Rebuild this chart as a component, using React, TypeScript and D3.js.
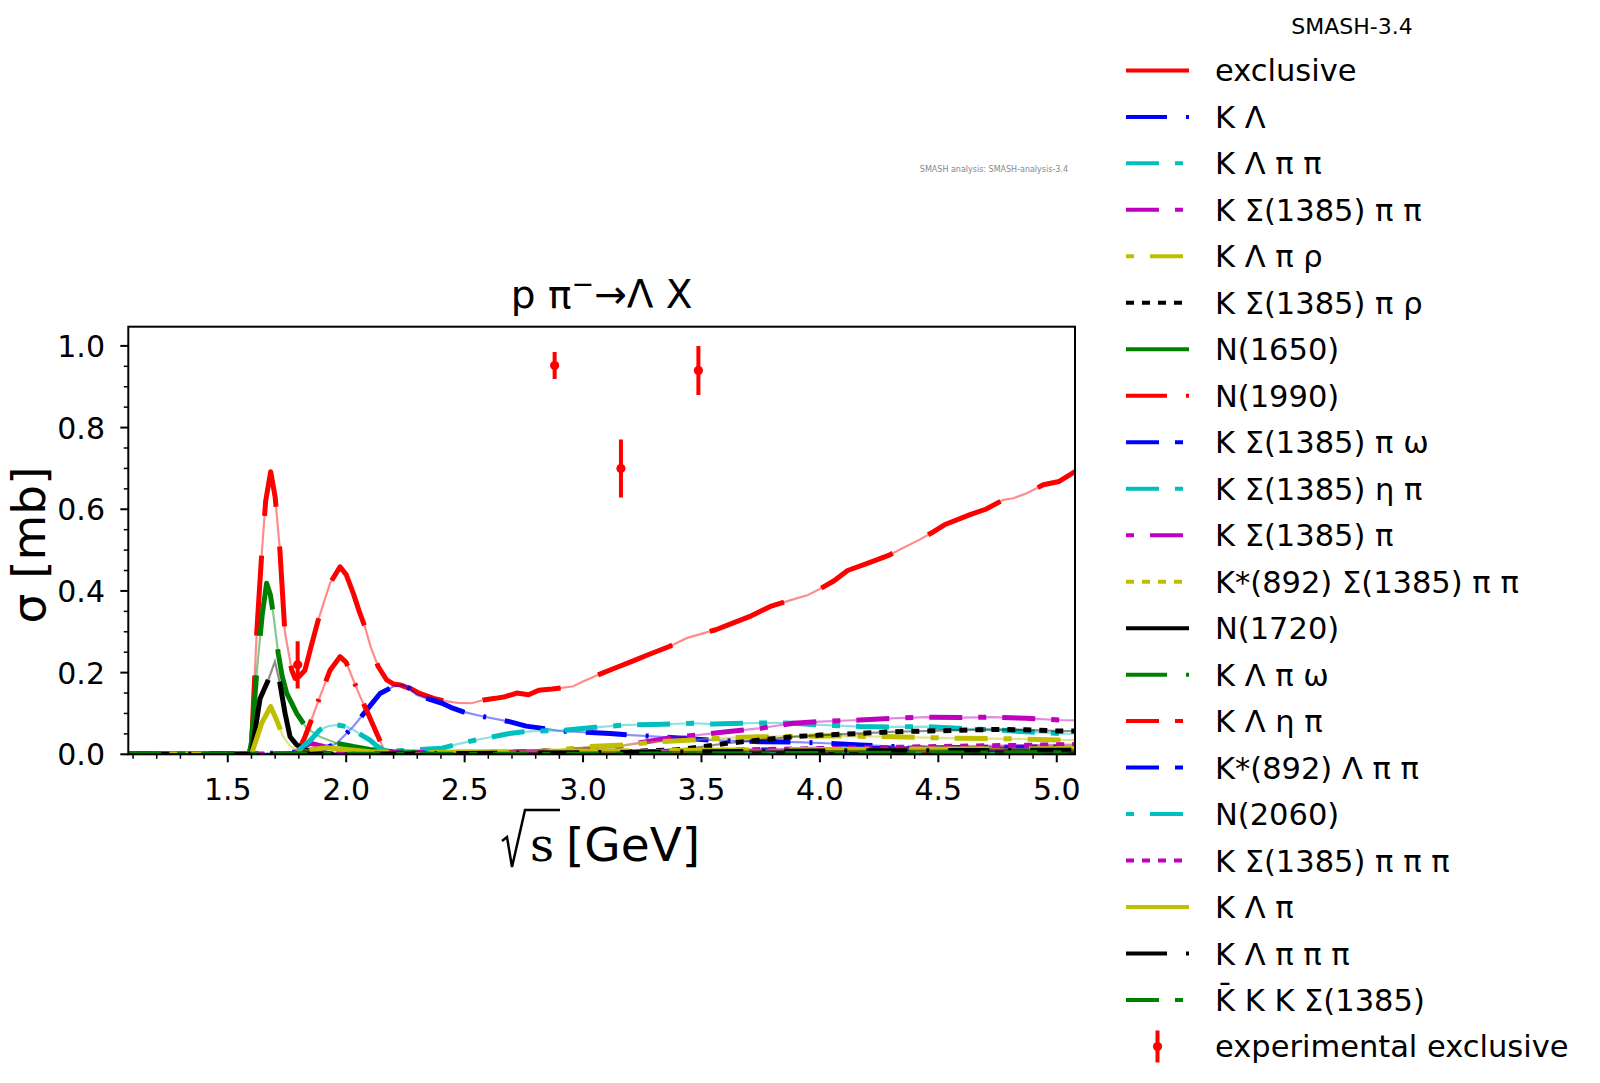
import React from "react";
import * as d3 from "d3";

type Pt = [number, number];

// sqrt(s) [GeV], sigma [mb]
const exclusive: Pt[] = [
  [1.08, 0], [1.59, 0], [1.6, 0.02], [1.622, 0.296], [1.643, 0.488], [1.66, 0.62], [1.681, 0.692],
  [1.7, 0.63], [1.72, 0.5], [1.741, 0.3], [1.77, 0.206], [1.784, 0.186], [1.8, 0.19], [1.826, 0.206],
  [1.85, 0.26], [1.882, 0.329], [1.91, 0.38], [1.932, 0.419], [1.974, 0.459], [2.0, 0.44], [2.03, 0.394],
  [2.055, 0.35], [2.079, 0.312], [2.105, 0.26], [2.135, 0.215], [2.171, 0.182], [2.2, 0.172],
  [2.227, 0.17], [2.25, 0.165], [2.269, 0.162], [2.31, 0.149], [2.369, 0.137], [2.42, 0.13],
  [2.47, 0.126], [2.529, 0.125], [2.58, 0.133], [2.63, 0.137], [2.671, 0.141], [2.72, 0.15],
  [2.77, 0.146], [2.813, 0.157], [2.87, 0.16], [2.956, 0.166], [3.0, 0.178], [3.062, 0.194],
  [3.13, 0.21], [3.204, 0.227], [3.28, 0.245], [3.364, 0.264], [3.44, 0.285], [3.506, 0.296],
  [3.56, 0.305], [3.613, 0.317], [3.702, 0.337], [3.791, 0.362], [3.88, 0.378], [3.95, 0.39],
  [4.0, 0.405], [4.06, 0.425], [4.117, 0.45], [4.203, 0.468], [4.29, 0.487], [4.35, 0.505],
  [4.419, 0.525], [4.48, 0.545], [4.526, 0.562], [4.634, 0.587], [4.7, 0.6], [4.774, 0.623],
  [4.816, 0.627], [4.873, 0.639], [4.943, 0.66], [5.01, 0.668], [5.077, 0.692],
];
const kLambda: Pt[] = [
  [1.08, 0], [1.61, 0], [1.7, 0.003], [1.8, 0.006], [1.9, 0.012], [1.96, 0.027], [2.03, 0.068],
  [2.086, 0.108], [2.143, 0.149], [2.199, 0.166], [2.241, 0.17], [2.269, 0.16], [2.298, 0.145],
  [2.35, 0.135], [2.405, 0.125], [2.45, 0.113], [2.494, 0.104], [2.583, 0.092], [2.689, 0.08],
  [2.76, 0.069], [2.85, 0.062], [2.903, 0.057], [3.0, 0.054], [3.114, 0.051], [3.2, 0.047],
  [3.325, 0.043], [3.43, 0.039], [3.536, 0.035], [3.747, 0.031], [3.9, 0.03], [4.029, 0.027],
  [4.17, 0.023], [4.31, 0.019], [4.45, 0.015], [4.591, 0.011], [4.8, 0.011], [5.077, 0.01],
];
const kLambdaPiPi: Pt[] = [
  [1.08, 0], [1.9, 0], [2.0, 0.002], [2.1, 0.004], [2.2, 0.008], [2.3, 0.011], [2.405, 0.015],
  [2.47, 0.025], [2.547, 0.035], [2.62, 0.043], [2.689, 0.051], [2.75, 0.055], [2.813, 0.057],
  [2.903, 0.058], [2.974, 0.062], [3.05, 0.066], [3.184, 0.072], [3.3, 0.073], [3.465, 0.076],
  [3.55, 0.074], [3.676, 0.076], [3.8, 0.077], [3.888, 0.076], [4.0, 0.072], [4.169, 0.068],
  [4.3, 0.067], [4.45, 0.068], [4.6, 0.063], [4.732, 0.06], [4.87, 0.055], [5.01, 0.051], [5.077, 0.05],
];
const kSigmaPiPi: Pt[] = [
  [1.08, 0], [2.4, 0], [2.6, 0.003], [2.8, 0.008], [3.0, 0.012], [3.15, 0.018], [3.184, 0.023],
  [3.293, 0.033], [3.395, 0.043], [3.5, 0.048], [3.606, 0.055], [3.75, 0.064], [3.888, 0.076],
  [4.0, 0.08], [4.169, 0.084], [4.3, 0.088], [4.45, 0.091], [4.6, 0.09], [4.732, 0.091],
  [4.87, 0.088], [5.01, 0.084], [5.077, 0.083],
];
const kLambdaPiRho: Pt[] = [
  [1.08, 0], [2.6, 0], [2.75, 0.005], [2.903, 0.011], [3.027, 0.019], [3.184, 0.023], [3.3, 0.03],
  [3.465, 0.035], [3.6, 0.04], [3.747, 0.043], [3.9, 0.044], [4.029, 0.045], [4.17, 0.044],
  [4.31, 0.043], [4.45, 0.041], [4.591, 0.039], [4.8, 0.038], [5.01, 0.035], [5.077, 0.035],
];
const kSigmaPiRho: Pt[] = [
  [1.08, 0], [2.9, 0], [3.1, 0.004], [3.25, 0.008], [3.395, 0.011], [3.5, 0.018], [3.606, 0.027],
  [3.75, 0.035], [3.888, 0.043], [4.0, 0.047], [4.169, 0.051], [4.3, 0.055], [4.45, 0.057],
  [4.6, 0.059], [4.732, 0.061], [4.87, 0.06], [5.01, 0.057], [5.077, 0.057],
];
const n1650: Pt[] = [
  [1.08, 0], [1.59, 0], [1.6, 0.03], [1.622, 0.198], [1.645, 0.34], [1.664, 0.419], [1.68, 0.39],
  [1.692, 0.345], [1.713, 0.247], [1.73, 0.19], [1.749, 0.149], [1.77, 0.125], [1.791, 0.1],
  [1.833, 0.064], [1.889, 0.043], [1.96, 0.027], [2.03, 0.019], [2.1, 0.012], [2.2, 0.006],
  [2.4, 0.003], [3.0, 0.002], [5.077, 0.001],
];
const n1990: Pt[] = [
  [1.08, 0], [1.78, 0], [1.8, 0.01], [1.826, 0.043], [1.86, 0.095], [1.889, 0.141], [1.932, 0.206],
  [1.974, 0.239], [2.0, 0.225], [2.03, 0.182], [2.06, 0.14], [2.086, 0.108], [2.129, 0.051],
  [2.157, 0.015], [2.2, 0.004], [2.4, 0.001], [5.077, 0],
];
const kSigmaPiOmega: Pt[] = [[1.08, 0], [2.8, 0], [3.2, 0.003], [3.6, 0.006], [4.0, 0.009], [4.5, 0.012], [5.077, 0.014]];
const kSigmaEtaPi: Pt[] = [[1.08, 0], [2.6, 0], [3.0, 0.003], [3.5, 0.006], [4.0, 0.009], [4.5, 0.011], [5.077, 0.012]];
const kSigmaPi: Pt[] = [
  [1.08, 0], [1.75, 0], [1.8, 0.01], [1.847, 0.027], [1.9, 0.02], [1.95, 0.012], [2.05, 0.006],
  [2.2, 0.004], [2.5, 0.005], [3.0, 0.006], [3.5, 0.007], [4.0, 0.008], [4.5, 0.009], [5.077, 0.01],
];
const kStarSigmaPiPi: Pt[] = [[1.08, 0], [2.6, 0], [3.0, 0.002], [3.5, 0.006], [4.0, 0.012], [4.5, 0.017], [5.077, 0.022]];
const n1720: Pt[] = [
  [1.08, 0], [1.6, 0], [1.636, 0.136], [1.671, 0.182], [1.699, 0.227], [1.72, 0.174], [1.742, 0.1],
  [1.763, 0.043], [1.791, 0.023], [1.83, 0.01], [1.9, 0.004], [2.1, 0.002], [5.077, 0.001],
];
const kLambdaPiOmega: Pt[] = [[1.08, 0], [2.53, 0], [3.0, 0.004], [3.5, 0.008], [4.0, 0.011], [4.5, 0.013], [5.077, 0.014]];
const kLambdaEtaPi: Pt[] = [[1.08, 0], [2.3, 0], [2.7, 0.003], [3.2, 0.006], [3.7, 0.009], [4.2, 0.011], [4.7, 0.012], [5.077, 0.012]];
const kStarLambdaPiPi: Pt[] = [[1.08, 0], [2.3, 0], [2.7, 0.002], [3.2, 0.006], [3.7, 0.01], [4.2, 0.014], [4.7, 0.017], [5.077, 0.018]];
const n2060: Pt[] = [
  [1.08, 0], [1.75, 0], [1.8, 0.01], [1.85, 0.035], [1.889, 0.06], [1.92, 0.068], [1.96, 0.072],
  [2.0, 0.068], [2.03, 0.06], [2.07, 0.045], [2.1, 0.035], [2.13, 0.02], [2.157, 0.01], [2.2, 0.004],
  [2.4, 0.001], [5.077, 0],
];
const kSigmaPiPiPi: Pt[] = [[1.08, 0], [2.3, 0], [3.0, 0.004], [3.5, 0.009], [4.0, 0.014], [4.5, 0.019], [5.077, 0.024]];
const kLambdaPi: Pt[] = [
  [1.08, 0], [1.6, 0], [1.643, 0.076], [1.681, 0.117], [1.706, 0.084], [1.734, 0.043], [1.763, 0.02],
  [1.8, 0.008], [1.85, 0.012], [1.92, 0.016], [2.0, 0.012], [2.1, 0.006], [2.3, 0.004], [2.6, 0.006],
  [3.0, 0.008], [3.5, 0.01], [4.0, 0.012], [4.5, 0.013], [5.077, 0.014],
];
const kLambdaPiPiPi: Pt[] = [[1.08, 0], [2.0, 0], [2.5, 0.002], [3.0, 0.004], [3.5, 0.006], [4.0, 0.008], [4.5, 0.009], [5.077, 0.01]];
const kbarKKSigma: Pt[] = [[1.08, 0], [3.0, 0], [3.5, 0.001], [4.0, 0.002], [4.5, 0.003], [5.077, 0.004]];

const seriesLabels = [
  "exclusive", "K Λ", "K Λ π π", "K Σ(1385) π π", "K Λ π ρ", "K Σ(1385) π ρ", "N(1650)", "N(1990)",
  "K Σ(1385) π ω", "K Σ(1385) η π", "K Σ(1385) π", "K*(892) Σ(1385) π π", "N(1720)", "K Λ π ω",
  "K Λ η π", "K*(892) Λ π π", "N(2060)", "K Σ(1385) π π π", "K Λ π", "K Λ π π π", "K\u0304 K K Σ(1385)",
];
const seriesValues = [
  exclusive, kLambda, kLambdaPiPi, kSigmaPiPi, kLambdaPiRho, kSigmaPiRho, n1650, n1990,
  kSigmaPiOmega, kSigmaEtaPi, kSigmaPi, kStarSigmaPiPi, n1720, kLambdaPiOmega,
  kLambdaEtaPi, kStarLambdaPiPi, n2060, kSigmaPiPiPi, kLambdaPi, kLambdaPiPiPi, kbarKKSigma,
];

const expX = [1.795, 2.88, 3.16, 3.487];
const expY = [0.219, 0.952, 0.7, 0.94];
const expErr = [0.058, 0.033, 0.071, 0.06];

const xTicks = [1.5, 2.0, 2.5, 3.0, 3.5, 4.0, 4.5, 5.0];
const yTicks = [0.0, 0.2, 0.4, 0.6, 0.8, 1.0];

const COLORS = ["#ff0000", "#0000ff", "#00bfbf", "#bf00bf", "#bfbf00", "#000000", "#008000"];
const DASHES = ["80 40", "41 19 3 19", "33 16 8 16", "33 16 8 16", "8 16 33 16", "8 8"];

const W = 1600;
const H = 1083;
const M = { left: 128.3, right: 1075, top: 326.7, bottom: 754.3 };
const FONT = "DejaVu Sans";

export default function App() {
  const x = d3.scaleLinear().domain([1.08, 5.077]).range([M.left, M.right]);
  const y = d3.scaleLinear().domain([0, 1.047]).range([M.bottom, M.top]);
  const line = d3.line<Pt>().x((d) => x(d[0])).y((d) => y(d[1]));

  const xMinor = d3.range(11, 51).map((v) => v / 10).filter((v) => Math.abs(v * 2 - Math.round(v * 2)) > 1e-6);
  const yMinor = d3.range(1, 21).map((v) => v / 20).filter((v) => Math.abs(v * 5 - Math.round(v * 5)) > 1e-6);

  const legX0 = 1126;
  const legX1 = 1189;
  const legText = 1215;
  const legY = (i: number) => 70.4 + i * 46.48;

  return (
    <svg width={W} height={H} style={{ position: "absolute", left: 0, top: 0, background: "#fff" }} fontFamily={FONT}>
      <defs>
        <clipPath id="plot-clip">
          <rect x={M.left} y={M.top} width={M.right - M.left} height={M.bottom - M.top} />
        </clipPath>
      </defs>

      {/* curves: faint full line under a thick dashed one */}
      <g clipPath="url(#plot-clip)">
        {seriesValues.map((vals, i) => {
          const c = COLORS[i % COLORS.length];
          return (
            <g key={i}>
              <path d={line(vals) ?? ""} fill="none" stroke={c} strokeWidth={2.2} strokeOpacity={0.45} />
              <path d={line(vals) ?? ""} fill="none" stroke={c} strokeWidth={5} strokeDasharray={DASHES[i % DASHES.length]} strokeLinejoin="round" />
            </g>
          );
        })}
        {expX.map((v, i) => (
          <g key={i} fill="#ff0000" stroke="#ff0000">
            <line x1={x(v)} x2={x(v)} y1={y(expY[i] - expErr[i])} y2={y(expY[i] + expErr[i])} strokeWidth={4} />
            <circle cx={x(v)} cy={y(expY[i])} r={4.6} stroke="none" />
          </g>
        ))}
      </g>

      {/* axes frame */}
      <rect x={M.left} y={M.top} width={M.right - M.left} height={M.bottom - M.top} fill="none" stroke="#000" strokeWidth={2} />

      {/* x ticks */}
      {xTicks.map((t) => (
        <g key={t}>
          <line x1={x(t)} x2={x(t)} y1={M.bottom} y2={M.bottom + 8} stroke="#000" strokeWidth={2} />
          <text x={x(t)} y={800} fontSize={30} textAnchor="middle">{t.toFixed(1)}</text>
        </g>
      ))}
      {xMinor.map((t) => (
        <line key={t} x1={x(t)} x2={x(t)} y1={M.bottom} y2={M.bottom + 4.5} stroke="#000" strokeWidth={1.5} />
      ))}

      {/* y ticks */}
      {yTicks.map((t) => (
        <g key={t}>
          <line x1={M.left - 8} x2={M.left} y1={y(t)} y2={y(t)} stroke="#000" strokeWidth={2} />
          <text x={105} y={y(t) + 11} fontSize={30} textAnchor="end">{t.toFixed(1)}</text>
        </g>
      ))}
      {yMinor.map((t) => (
        <line key={t} x1={M.left - 4.5} x2={M.left} y1={y(t)} y2={y(t)} stroke="#000" strokeWidth={1.5} />
      ))}

      {/* title */}
      <text x={(M.left + M.right) / 2} y={308} fontSize={39} textAnchor="middle">
        p π<tspan fontSize={27} dy={-15}>−</tspan><tspan dy={15}>→Λ X</tspan>
      </text>

      {/* axis labels */}
      <text transform="translate(45,545) rotate(-90)" fontSize={47} textAnchor="middle">σ [mb]</text>
      <g transform="translate(502,861)">
        <path d="M0,-20 L5,-24 L10,6 L23,-51 L58,-51" fill="none" stroke="#000" strokeWidth={2.5} strokeLinejoin="miter" />
        <text x={28} y={0} fontSize={47} fontFamily="DejaVu Serif">s</text>
        <text x={64} y={0} fontSize={47}>[GeV]</text>
      </g>

      {/* small annotations */}
      <text x={1068} y={172} fontSize={8} fill="#888" textAnchor="end">SMASH analysis: SMASH-analysis-3.4</text>
      <text x={1352} y={34} fontSize={22} textAnchor="middle">SMASH-3.4</text>

      {/* legend */}
      {seriesLabels.map((lab, i) => (
        <g key={lab}>
          <line x1={legX0} x2={legX1} y1={legY(i)} y2={legY(i)} stroke={COLORS[i % COLORS.length]} strokeWidth={4} strokeDasharray={DASHES[i % DASHES.length]} />
          <text x={legText} y={legY(i) + 11} fontSize={30.5}>{lab}</text>
        </g>
      ))}
      <g>
        <line x1={(legX0 + legX1) / 2} x2={(legX0 + legX1) / 2} y1={legY(21) - 16} y2={legY(21) + 16} stroke="#ff0000" strokeWidth={4} />
        <circle cx={(legX0 + legX1) / 2} cy={legY(21)} r={4.6} fill="#ff0000" />
        <text x={legText} y={legY(21) + 11} fontSize={30.5}>experimental exclusive</text>
      </g>
    </svg>
  );
}
